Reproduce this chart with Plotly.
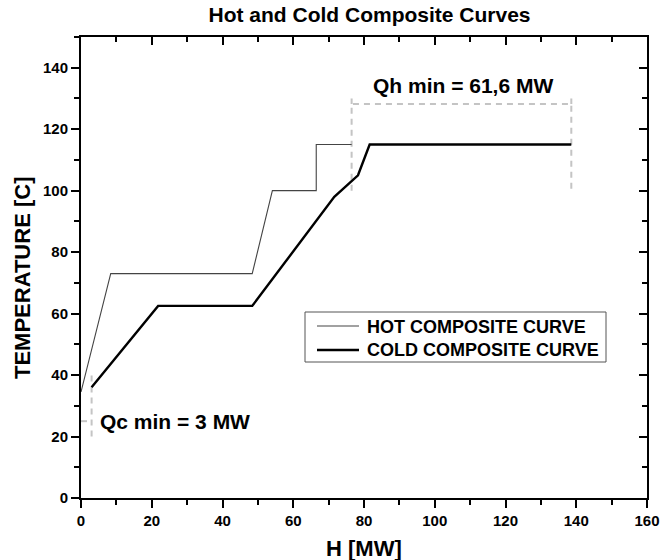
import plotly.graph_objects as go

# Data
hot_h = [0, 8.4, 48.4, 54.1, 66.5, 66.5, 76.5]
hot_t = [34.5, 73, 73, 100, 100, 115, 115]

cold_h = [3, 21.8, 48.4, 71.6, 78.3, 81.6, 138.6]
cold_t = [36, 62.5, 62.5, 98, 105, 115, 115]

qh_h = [76.5, 76.5, 138.6, 138.6]
qh_t = [100, 128.2, 128.2, 100]
qh_v_h = [76.5, 76.5]
qh_v_t = [128.2, 130]
qh_v2_h = [138.6, 138.6]
qh_v2_t = [128.2, 130]

qc_v_h = [3, 3]
qc_v_t = [20, 40]
qc_hz_h = [0, 3]
qc_hz_t = [25, 25]

x_ticks = [0, 20, 40, 60, 80, 100, 120, 140, 160]
y_ticks = [0, 20, 40, 60, 80, 100, 120, 140]

series_names = ["HOT COMPOSITE CURVE", "COLD COMPOSITE CURVE"]

FONT = "Liberation Sans, Arial, sans-serif"
DASH = "#c4c4c4"
HOT_COLOR, HOT_W = "#444444", 1.1
COLD_COLOR, COLD_W = "#000000", 2.4

W, H = 663, 560
PL, PT = 81, 37          # plot-area left / top in pixels
PW, PH = 566, 461        # plot-area size


def px_x(px):  # window pixel -> paper x
    return (px - PL) / PW


def px_y(py):  # window pixel -> paper y
    return (PT + PH - py) / PH


fig = go.Figure()

for xs, ys in [(qh_h, qh_t), (qh_v_h, qh_v_t), (qh_v2_h, qh_v2_t), (qc_v_h, qc_v_t), (qc_hz_h, qc_hz_t)]:
    fig.add_trace(go.Scatter(x=xs, y=ys, mode="lines", showlegend=False, hoverinfo="skip",
                             line=dict(color=DASH, width=2, dash="6px,5px")))

fig.add_trace(go.Scatter(x=hot_h, y=hot_t, mode="lines", name=series_names[0], showlegend=False,
                         line=dict(color=HOT_COLOR, width=HOT_W)))
fig.add_trace(go.Scatter(x=cold_h, y=cold_t, mode="lines", name=series_names[1], showlegend=False,
                         line=dict(color=COLD_COLOR, width=COLD_W)))
fig.add_trace(go.Scatter(x=[], y=[], xaxis="x2", yaxis="y2", showlegend=False, hoverinfo="skip"))

tickfont = dict(family=FONT, size=15, color="#000", weight="bold")

# custom legend box (drawn in paper coordinates)
shapes = [
    dict(type="rect", xref="paper", yref="paper", x0=px_x(305), x1=px_x(606), y0=px_y(362), y1=px_y(312),
         line=dict(color="#555", width=1), fillcolor="white", layer="above"),
    dict(type="line", xref="paper", yref="paper", x0=px_x(317), x1=px_x(359), y0=px_y(326), y1=px_y(326),
         line=dict(color=HOT_COLOR, width=HOT_W), layer="above"),
    dict(type="line", xref="paper", yref="paper", x0=px_x(317), x1=px_x(359), y0=px_y(350), y1=px_y(350),
         line=dict(color=COLD_COLOR, width=COLD_W), layer="above"),
]

legend_ann = [
    dict(text=series_names[0], x=px_x(365), y=px_y(327), xref="paper", yref="paper", showarrow=False,
         xanchor="left", yanchor="middle", font=dict(family=FONT, size=18, color="#000", weight="bold")),
    dict(text=series_names[1], x=px_x(365), y=px_y(350), xref="paper", yref="paper", showarrow=False,
         xanchor="left", yanchor="middle", font=dict(family=FONT, size=18, color="#000", weight="bold")),
]

fig.update_layout(
    width=W, height=H,
    margin=dict(l=PL, r=W - PL - PW, t=PT, b=H - PT - PH, autoexpand=False),
    paper_bgcolor="white", plot_bgcolor="white",
    showlegend=False,
    title=dict(text="Hot and Cold Composite Curves", x=369.5 / W, xref="container", xanchor="center",
               y=1 - 15 / H, yref="container", yanchor="middle",
               font=dict(family=FONT, size=21, color="#000", weight="bold")),
    xaxis=dict(range=[0, 160], tickvals=x_ticks, ticktext=[str(v) for v in x_ticks],
               ticks="outside", ticklen=8, tickwidth=1.5, tickcolor="#000",
               linecolor="#000", linewidth=2, mirror=True, showgrid=False, zeroline=False,
               tickfont=tickfont,
               minor=dict(dtick=10, ticks="outside", ticklen=5, tickwidth=1.5, tickcolor="#000")),
    yaxis=dict(range=[0, 150], tickvals=y_ticks, ticktext=[str(v) for v in y_ticks],
               ticks="outside", ticklen=8, tickwidth=1.5, tickcolor="#000",
               linecolor="#000", linewidth=2, mirror=True, showgrid=False, zeroline=False,
               tickfont=tickfont,
               minor=dict(dtick=10, ticks="outside", ticklen=5, tickwidth=1.5, tickcolor="#000")),
    xaxis2=dict(range=[0, 160], overlaying="x", side="top", anchor="y", dtick=20, tick0=0,
                ticks="inside", ticklen=8, tickwidth=1.5, tickcolor="#000", showticklabels=False,
                showline=False, showgrid=False, zeroline=False,
                minor=dict(dtick=10, ticks="inside", ticklen=5, tickwidth=1.5, tickcolor="#000")),
    yaxis2=dict(range=[0, 150], overlaying="y", side="right", anchor="x", dtick=20, tick0=0,
                ticks="inside", ticklen=8, tickwidth=1.5, tickcolor="#000", showticklabels=False,
                showline=False, showgrid=False, zeroline=False,
                minor=dict(dtick=10, ticks="inside", ticklen=5, tickwidth=1.5, tickcolor="#000")),
    shapes=shapes,
    annotations=[
        dict(text="Qh min = 61,6 MW", x=107.9, y=134.3, xref="x", yref="y", showarrow=False,
             font=dict(family=FONT, size=21, color="#000", weight="bold")),
        dict(text="Qc min = 3 MW", x=26.6, y=25, xref="x", yref="y", showarrow=False,
             font=dict(family=FONT, size=21, color="#000", weight="bold")),
        dict(text="TEMPERATURE [C]", x=px_x(22), y=px_y(278), xref="paper", yref="paper",
             textangle=-90, showarrow=False, xanchor="center", yanchor="middle",
             font=dict(family=FONT, size=22, color="#000", weight="bold")),
        dict(text="H [MW]", x=0.5, y=px_y(548), xref="paper", yref="paper",
             showarrow=False, xanchor="center", yanchor="middle",
             font=dict(family=FONT, size=22, color="#000", weight="bold")),
    ] + legend_ann,
)

fig.write_html("out.html", config={"displayModeBar": False},
               post_script="document.body.style.margin='0';document.body.style.overflow='hidden';")
